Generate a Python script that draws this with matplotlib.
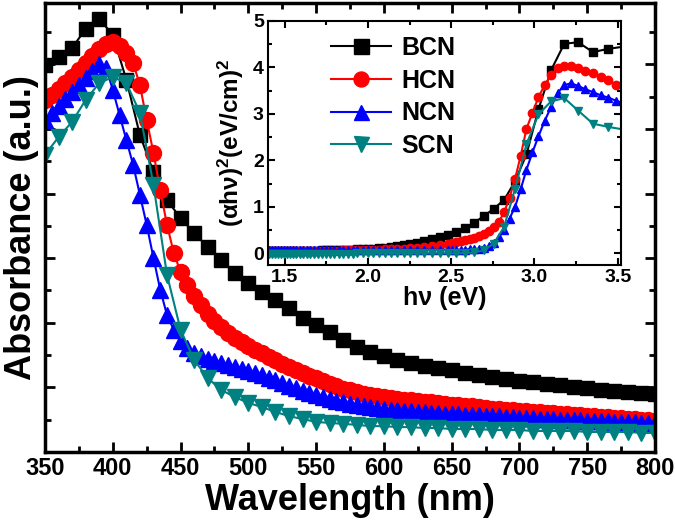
import numpy as np
import matplotlib
matplotlib.use('Agg')
import matplotlib.pyplot as plt
from matplotlib.ticker import MultipleLocator

plt.rcParams['font.family'] = 'Liberation Sans'
plt.rcParams['font.weight'] = 'bold'
plt.rcParams['mathtext.fontset'] = 'custom'
plt.rcParams['mathtext.rm'] = 'Liberation Sans:bold'
plt.rcParams['mathtext.it'] = 'Liberation Sans:bold'
plt.rcParams['mathtext.bf'] = 'Liberation Sans:bold'

# main panel: absorbance (a.u.) vs wavelength
wl10 = list(range(350, 801, 10))
wl5 = list(range(350, 801, 5))

bcn = [1.198, 1.223, 1.251, 1.310, 1.341, 1.291, 1.152, 0.981, 0.867, 0.780,
       0.724, 0.678, 0.635, 0.594, 0.554, 0.523, 0.495, 0.471, 0.446, 0.415,
       0.393, 0.372, 0.347, 0.325, 0.310, 0.297, 0.285, 0.276, 0.266, 0.260,
       0.254, 0.245, 0.238, 0.232, 0.226, 0.220, 0.217, 0.211, 0.207, 0.201,
       0.198, 0.192, 0.189, 0.186, 0.183, 0.180]

hcn = [1.090, 1.105, 1.124, 1.142, 1.161, 1.183, 1.204, 1.226, 1.248, 1.263,
       1.269, 1.257, 1.235, 1.204, 1.136, 1.028, 0.926, 0.811, 0.703, 0.616,
       0.557, 0.517, 0.483, 0.455, 0.427, 0.406, 0.387, 0.368, 0.353, 0.341,
       0.328, 0.316, 0.307, 0.294, 0.285, 0.272, 0.263, 0.254, 0.245, 0.235,
       0.229, 0.220, 0.211, 0.204, 0.195, 0.192, 0.186, 0.180, 0.176, 0.173,
       0.170, 0.167, 0.164, 0.161, 0.161, 0.158, 0.155, 0.155, 0.152, 0.149,
       0.146, 0.146, 0.142, 0.142, 0.139, 0.136, 0.133, 0.133, 0.130, 0.130,
       0.127, 0.127, 0.124, 0.124, 0.121, 0.121, 0.118, 0.118, 0.115, 0.115,
       0.111, 0.111, 0.108, 0.108, 0.105, 0.105, 0.102, 0.102, 0.099, 0.099,
       0.096]

ncn = [1.028, 1.050, 1.071, 1.093, 1.115, 1.136, 1.158, 1.180, 1.201, 1.189,
       1.121, 1.043, 0.966, 0.889, 0.796, 0.703, 0.601, 0.502, 0.424, 0.378,
       0.344, 0.322, 0.307, 0.297, 0.288, 0.282, 0.276, 0.269, 0.263, 0.257,
       0.251, 0.245, 0.238, 0.229, 0.223, 0.214, 0.204, 0.198, 0.189, 0.183,
       0.176, 0.170, 0.164, 0.158, 0.155, 0.149, 0.146, 0.142, 0.139, 0.136,
       0.133, 0.130, 0.130, 0.127, 0.127, 0.124, 0.124, 0.121, 0.121, 0.118,
       0.118, 0.118, 0.115, 0.115, 0.115, 0.111, 0.111, 0.111, 0.108, 0.108,
       0.105, 0.105, 0.105, 0.102, 0.102, 0.102, 0.099, 0.099, 0.099, 0.099,
       0.096, 0.096, 0.096, 0.096, 0.093, 0.093, 0.093, 0.093, 0.090, 0.090,
       0.090]

scn = [0.920, 0.975, 1.022, 1.090, 1.142, 1.161, 1.142, 1.050, 0.827, 0.548,
       0.378, 0.285, 0.229, 0.192, 0.170, 0.152, 0.139, 0.124, 0.111, 0.102,
       0.093, 0.090, 0.087, 0.084, 0.080, 0.080, 0.077, 0.077, 0.074, 0.074,
       0.071, 0.071, 0.071, 0.068, 0.068, 0.068, 0.065, 0.065, 0.065, 0.065,
       0.062, 0.062, 0.062, 0.062, 0.059, 0.059]

# inset: (alpha h nu)^2 vs photon energy
ins_wl10 = list(range(350, 891, 10))
ins_wl5 = list(range(350, 500, 5)) + list(range(500, 891, 10))

ins_bcn = [4.45, 4.40, 4.33, 4.54, 4.51, 3.94, 3.10, 2.13, 1.55, 1.15,
           0.96, 0.80, 0.66, 0.54, 0.45, 0.40, 0.35, 0.31, 0.26, 0.23,
           0.20, 0.17, 0.15, 0.13, 0.12, 0.11, 0.10, 0.10, 0.09, 0.09,
           0.08, 0.08, 0.08, 0.07, 0.07, 0.07, 0.07, 0.07, 0.06, 0.06,
           0.06, 0.06, 0.06, 0.06, 0.06, 0.06, 0.05, 0.05, 0.05, 0.05,
           0.05, 0.05, 0.05, 0.05, 0.05]

ins_hcn = [3.55, 3.63, 3.72, 3.80, 3.88, 3.93, 3.98, 4.03, 4.04, 3.98,
           3.83, 3.62, 3.36, 3.02, 2.68, 2.10, 1.60, 1.20, 0.88, 0.68,
           0.56, 0.48, 0.42, 0.38, 0.34, 0.31, 0.29, 0.27, 0.24, 0.22,
           0.20, 0.17, 0.15, 0.13, 0.12, 0.11, 0.10, 0.10, 0.09, 0.09,
           0.08, 0.08, 0.08, 0.07, 0.07, 0.07, 0.07, 0.07, 0.06, 0.06,
           0.06, 0.06, 0.06, 0.06, 0.06, 0.06, 0.06, 0.06, 0.06, 0.06,
           0.06, 0.06, 0.06, 0.06, 0.06, 0.06, 0.06, 0.06, 0.06, 0.06]

ins_ncn = [3.22, 3.28, 3.35, 3.40, 3.47, 3.53, 3.60, 3.66, 3.62, 3.45,
           3.15, 2.85, 2.52, 2.17, 1.80, 1.38, 1.00, 0.75, 0.50, 0.35,
           0.23, 0.15, 0.12, 0.10, 0.09, 0.09, 0.08, 0.08, 0.08, 0.08,
           0.08, 0.08, 0.08, 0.08, 0.08, 0.08, 0.08, 0.08, 0.08, 0.08,
           0.07, 0.07, 0.07, 0.07, 0.07, 0.07, 0.07, 0.07, 0.07, 0.07,
           0.07, 0.07, 0.07, 0.07, 0.07, 0.07, 0.07, 0.07, 0.07, 0.07,
           0.07, 0.07, 0.07, 0.07, 0.07, 0.07, 0.07, 0.07, 0.07, 0.07]

ins_scn = [2.66, 2.72, 2.79, 3.07, 3.34, 3.27, 2.99, 2.35, 1.39, 0.57,
           0.21, 0.07, 0.02, 0.01, 0.00, 0.00, 0.00, 0.00, 0.00, 0.00,
           0.00, 0.00, 0.00, 0.00, 0.00, 0.00, 0.00, 0.00, 0.00, 0.00,
           -0.01, -0.01, -0.01, -0.01, -0.01, -0.01, -0.01, -0.01, -0.01, -0.01,
           -0.01, -0.01, -0.01, -0.01, -0.01, -0.01, -0.01, -0.01, -0.01, -0.01,
           -0.01, -0.01, -0.01, -0.01, -0.01]

labels = ['BCN', 'HCN', 'NCN', 'SCN']
colors = ['#000000', '#ff0000', '#0000ff', '#008080']
markers = ['s', 'o', '^', 'v']

fig = plt.figure(figsize=(6.75, 5.23), dpi=100, facecolor='w')
ax = fig.add_axes([0.0667, 0.1358, 0.9037, 0.8585])

main_x = [wl10, wl5, wl5, wl10]
main_y = [bcn, hcn, ncn, scn]
main_ms = [9.5, 11.5, 11, 11]
for x, y, c, m, s in zip(main_x, main_y, colors, markers, main_ms):
    ax.plot(x, y, '-', marker=m, color=c, ms=s, lw=1.5, mec=c)

ax.set_xlim(350, 800)
ax.set_ylim(0, 1.39)
ax.xaxis.set_major_locator(MultipleLocator(50))
ax.xaxis.set_minor_locator(MultipleLocator(25))
ax.yaxis.set_major_locator(MultipleLocator(0.2))
ax.yaxis.set_minor_locator(MultipleLocator(0.1))
ax.tick_params(which='both', direction='in', top=True, right=True, width=2,
               labelleft=False, labelsize=17)
ax.tick_params(which='major', length=7)
ax.tick_params(which='minor', length=4)
for sp in ax.spines.values():
    sp.set_linewidth(2.5)
ax.set_xlabel('Wavelength (nm)', fontsize=26, fontweight='bold', labelpad=2)
ax.set_ylabel('Absorbance (a.u.)', fontsize=26, fontweight='bold', labelpad=4)

# inset
ins = fig.add_axes([0.397, 0.4933, 0.523, 0.4667])
ins_x = [ins_wl10, ins_wl5, ins_wl5, ins_wl10]
ins_y = [ins_bcn, ins_hcn, ins_ncn, ins_scn]
for x, y, c, m, lab in zip(ins_x, ins_y, colors, markers, labels):
    e = 1240.0 / np.array(x)
    ins.plot(e, y, '-', marker=m, color=c, ms=6, lw=1.5, mec=c, label=lab)

ins.set_xlim(1.4, 3.52)
ins.set_ylim(-0.25, 5)
ins.xaxis.set_major_locator(MultipleLocator(0.5))
ins.xaxis.set_minor_locator(MultipleLocator(0.25))
ins.yaxis.set_major_locator(MultipleLocator(1))
ins.yaxis.set_minor_locator(MultipleLocator(0.5))
ins.tick_params(which='both', direction='in', top=True, right=True, width=1.5,
                labelsize=14, pad=3)
ins.tick_params(which='major', length=5)
ins.tick_params(which='minor', length=3)
for sp in ins.spines.values():
    sp.set_linewidth(1.5)
ins.set_xlabel('h\u03bd (eV)', fontsize=18, fontweight='bold', labelpad=0)
ins.set_ylabel('(\u03b1h\u03bd)$^2$(eV/cm)$^2$', fontsize=17.5, fontweight='bold', labelpad=5)

ins.legend(loc='upper left', bbox_to_anchor=(0.15, 0.98), frameon=False,
           fontsize=18, markerscale=1.8, handlelength=2.4, handletextpad=0.4,
           labelspacing=0.35, borderaxespad=0)

fig.savefig('out.png', dpi=100, facecolor='w')
plt.close(fig)
